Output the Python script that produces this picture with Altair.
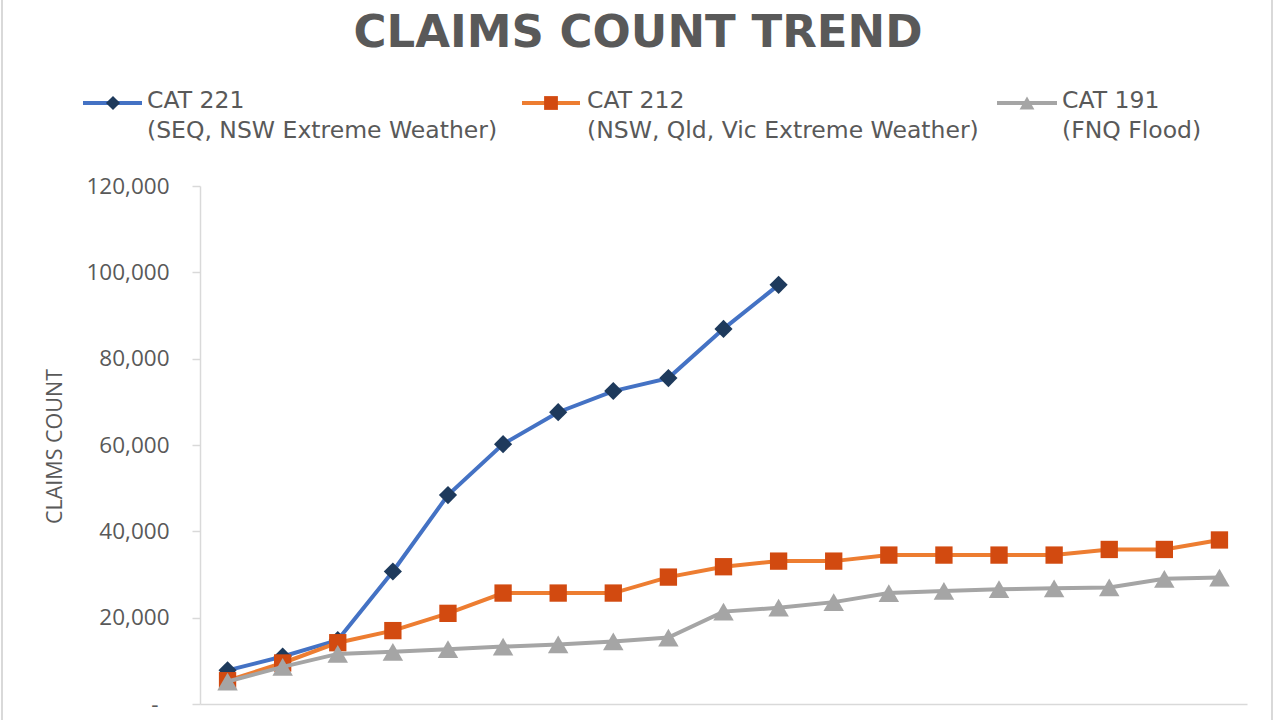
import altair as alt
import pandas as pd

# ---------------- data ----------------
title_text = "CLAIMS COUNT TREND"
y_title = "CLAIMS COUNT"
periods = [str(i) for i in range(1, 20)]
series_names = ["CAT 221", "CAT 212", "CAT 191"]
series_subs = ["(SEQ, NSW Extreme Weather)", "(NSW, Qld, Vic Extreme Weather)", "(FNQ Flood)"]

cat221 = [7800, 11000, 14800, 30700, 48400, 60200, 67600, 72500, 75500, 86900, 97100]
cat212 = [5400, 9500, 14200, 17000, 21000, 25700, 25700, 25700, 29400, 31800,
          33100, 33100, 34500, 34500, 34500, 34500, 35800, 35800, 38000]
cat191 = [5200, 8600, 11600, 12100, 12700, 13300, 13800, 14500, 15400, 21400,
          22300, 23600, 25700, 26200, 26600, 26800, 27000, 29000, 29300]
y_ticks = [0, 20000, 40000, 60000, 80000, 100000, 120000]

# ---------------- styles ----------------
line_colors = ["#4472C4", "#ED7D31", "#A5A5A5"]
marker_colors = ["#1E3A5C", "#D24A10", "#A5A5A5"]
marker_shapes = ["diamond", "square", "triangle-up"]
marker_sizes = [330, 300, 420]
legend_marker_sizes = [200, 190, 220]
TEXT_GRAY = "#595959"
AXIS_GRAY = "#D9D9D9"

W, H = 1047, 518
PAD = {"left": 200, "top": 186, "right": 33, "bottom": 16}

x_enc = alt.X(
    "period:O",
    scale=alt.Scale(type="point", domain=periods, padding=0.5),
    axis=alt.Axis(labels=False, ticks=False, title=None, domainColor=AXIS_GRAY,
                  domainWidth=1.5, grid=False),
)
y_enc = alt.Y(
    "claims:Q",
    scale=alt.Scale(domain=[0, 120000], nice=False),
    axis=alt.Axis(
        values=y_ticks,
        labelExpr="datum.value == 0 ? '-' : format(datum.value, ',')",
        labelFont="Open Sans", labelFontSize=22.5, labelColor=TEXT_GRAY,
        labelPadding={"condition": {"test": "datum.value == 0", "value": 34}, "value": 23},
        tickSize=8, tickColor=AXIS_GRAY, tickWidth=1.5,
        domainColor=AXIS_GRAY, domainWidth=1.5, grid=False,
        title=y_title, titleFont="Open Sans", titleFontSize=21.5,
        titleFontWeight="normal", titleColor=TEXT_GRAY, titleAngle=270,
        titleX=-145, titleY=260, titleAlign="center", titleBaseline="middle",
    ),
)

layers = []
for name, vals, lc, mc, shp, sz in zip(series_names, [cat221, cat212, cat191],
                                       line_colors, marker_colors, marker_shapes, marker_sizes):
    df = pd.DataFrame({"period": periods[:len(vals)], "claims": vals, "series": name})
    base = alt.Chart(df).encode(x=x_enc, y=y_enc,
                                tooltip=["series:N", "period:O", alt.Tooltip("claims:Q", format=",")])
    layers.append(base.mark_line(color=lc, strokeWidth=4))
    layers.append(base.mark_point(shape=shp, filled=True, fill=mc, color=mc,
                                  size=sz, opacity=1, strokeWidth=0))

# ---------------- title ----------------
layers.append(
    alt.Chart(pd.DataFrame({"t": [title_text]})).mark_text(
        font="DejaVu Sans", fontWeight="bold", fontSize=45, color=TEXT_GRAY,
        align="center", baseline="alphabetic",
    ).encode(text="t:N", x=alt.value(438), y=alt.value(-139))
)

# ---------------- manual legend ----------------
legend_line_x = [(-117, -58), (322, 380), (797, 857)]
legend_marker_x = [-87, 351, 827]
legend_text_x = [-53, 387, 862]
for i, name in enumerate(series_names):
    ldf = pd.DataFrame({"name": [name], "sub": [series_subs[i]]})
    lb = alt.Chart(ldf)
    x1, x2 = legend_line_x[i]
    layers.append(lb.mark_rule(color=line_colors[i], strokeWidth=4).encode(
        x=alt.value(x1), x2=alt.value(x2), y=alt.value(-83)))
    layers.append(lb.mark_point(shape=marker_shapes[i], filled=True, fill=marker_colors[i],
                                color=marker_colors[i], size=legend_marker_sizes[i],
                                opacity=1, strokeWidth=0).encode(
        x=alt.value(legend_marker_x[i]), y=alt.value(-83)))
    layers.append(lb.mark_text(font="DejaVu Sans", fontSize=23.5, color=TEXT_GRAY,
                               align="left", baseline="alphabetic").encode(
        text="name:N", x=alt.value(legend_text_x[i]), y=alt.value(-78)))
    layers.append(lb.mark_text(font="DejaVu Sans", fontSize=23.5, color=TEXT_GRAY,
                               align="left", baseline="alphabetic").encode(
        text="sub:N", x=alt.value(legend_text_x[i]), y=alt.value(-48)))

# ---------------- outer frame edges ----------------
frame = alt.Chart(pd.DataFrame({"edge": ["left", "right"], "xpos": [-198, 1072]}))
layers.append(frame.mark_rule(color=AXIS_GRAY, strokeWidth=2).encode(
    x=alt.X("xpos:Q", scale=None), y=alt.value(-186), y2=alt.value(534)))

chart = alt.layer(*layers).properties(
    width=W, height=H,
    autosize=alt.AutoSizeParams(type="none"),
    padding=PAD,
    background="white",
).configure_view(stroke=None)

chart.save("out.html", embed_options={"renderer": "svg", "actions": False})
